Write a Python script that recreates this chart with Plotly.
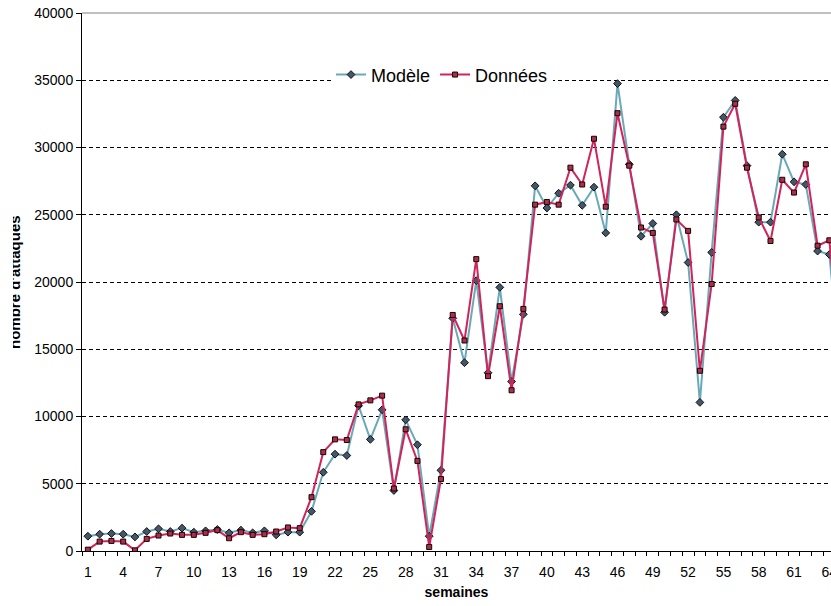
import plotly.graph_objects as go

weeks = list(range(1, 66))
modele = [1100, 1250, 1300, 1250, 1050, 1450, 1650, 1450, 1700, 1400,
          1500, 1600, 1350, 1550, 1350, 1500, 1200, 1400, 1400, 2950,
          5850, 7200, 7100, 10800, 8300, 10500, 4500, 9750, 7900, 1100,
          6000, 17300, 14000, 20100, 13250, 19600, 12600, 17600, 27150, 25500,
          26600, 27200, 25700, 27050, 23650, 34750, 28750, 23400, 24350, 17750,
          25000, 21450, 11050, 22200, 32250, 33500, 28650, 24450, 24450, 29500,
          27450, 27250, 22300, 22050, 13000]
donnees = [100, 700, 750, 700, 50, 900, 1150, 1300, 1200, 1200,
           1350, 1550, 950, 1400, 1200, 1250, 1450, 1750, 1700, 4000,
           7350, 8300, 8250, 10900, 11200, 11550, 4650, 9050, 6700, 300,
           5350, 17550, 15650, 21700, 13000, 18200, 11950, 18000, 25750, 25950,
           25750, 28500, 27250, 30650, 25600, 32550, 28650, 24050, 23650, 17950,
           24650, 23800, 13400, 19850, 31550, 33250, 28500, 24800, 23050, 27600,
           26650, 28750, 22700, 23100, 14000]
x_ticks = list(range(1, 65, 3))
y_ticks = list(range(0, 40001, 5000))

fig = go.Figure()
fig.add_trace(go.Scatter(
    x=weeks, y=modele, name="Modèle", mode="lines+markers",
    line=dict(color="#6aa9b8", width=2),
    marker=dict(symbol="diamond", size=6, color="#44576a",
                line=dict(color="#111111", width=1)),
))
fig.add_trace(go.Scatter(
    x=weeks, y=donnees, name="Données", mode="lines+markers",
    line=dict(color="#d0245a", width=2),
    marker=dict(symbol="square", size=5, color="#a8304c",
                line=dict(color="#1a0000", width=1)),
))

fig.update_layout(
    width=831, height=606,
    margin=dict(l=82, r=0, t=13, b=55, autoexpand=False),
    paper_bgcolor="white", plot_bgcolor="white",
    font=dict(family="Liberation Sans, Arial, sans-serif", size=14, color="#000000"),
    showlegend=True,
    legend=dict(orientation="h", x=(331 - 82) / 749, y=0.885, xanchor="left", yanchor="middle",
                bgcolor="white", font=dict(size=18), itemwidth=30,
                tracegroupgap=0),
    xaxis=dict(
        range=[0.5, 64.14], tickmode="array", tickvals=x_ticks,
        ticks="outside", ticklen=8, tickcolor="rgba(0,0,0,0)",
        ticklabeloverflow="allow", automargin=False,
        showline=True, linecolor="#000000", linewidth=1,
        showgrid=False, zeroline=False,
        minor=dict(tick0=0.5, dtick=1, ticks="outside", ticklen=4,
                   tickcolor="#000000", showgrid=False),
        title=dict(text="<b>semaines</b>", font=dict(size=14), standoff=8),
    ),
    yaxis=dict(
        range=[0, 40000], tickmode="array", tickvals=y_ticks, tickformat="d",
        ticks="outside", ticklen=5, tickcolor="#000000", automargin=False,
        showline=True, linecolor="#000000", linewidth=1,
        showgrid=True, gridcolor="#000000", gridwidth=1, griddash="4px,3px",
        zeroline=False,
    ),
    shapes=[dict(type="line", xref="paper", yref="paper", x0=0, x1=1, y0=1, y1=1,
                 line=dict(color="#808080", width=1))],
    annotations=[
        dict(text="<b>nombre d'attaques</b>", xref="paper", yref="paper",
             x=-(82 - 14) / 749, y=0.5, xanchor="center", yanchor="middle",
             textangle=-90, showarrow=False, font=dict(size=15)),
        dict(text=".", xref="paper", yref="paper",
             x=-82 / 749, y=0.5, xanchor="left", yanchor="middle",
             width=13, height=220, bgcolor="white", showarrow=False,
             font=dict(color="white", size=4), borderpad=0, borderwidth=0),
    ],
)

fig.write_html("out.html", config={"displayModeBar": False},
               post_script="document.body.style.margin='0';document.body.style.overflow='hidden';")
